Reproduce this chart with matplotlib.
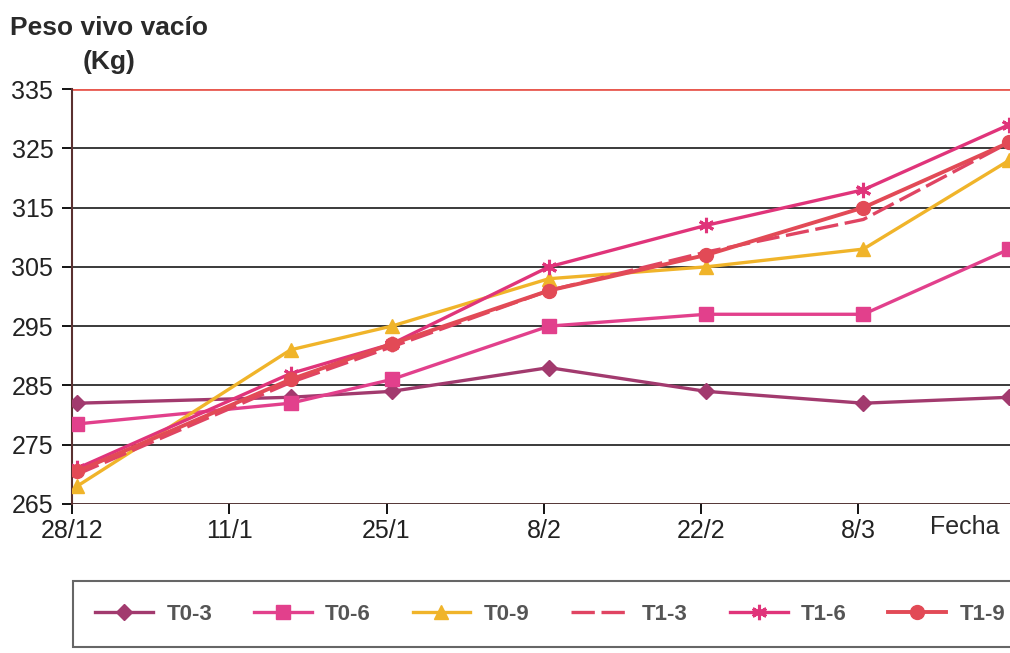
import numpy as np
import matplotlib.pyplot as plt

plt.rcParams['font.family'] = ['Liberation Sans', 'DejaVu Sans']

# days since 28/12 for each weighing
dias = [0, 19, 28, 42, 56, 70, 83]
fechas = ['28/12', '11/1', '25/1', '8/2', '22/2', '8/3']
dias_ticks = [0, 14, 28, 42, 56, 70]

t0_3 = [282, 283, 284, 288, 284, 282, 283]
t0_6 = [278.5, 282, 286, 295, 297, 297, 308]
t0_9 = [268, 291, 295, 303, 305, 308, 323]
t1_3 = [270, 285.5, 291.5, 301, 307.5, 313, 326]
t1_6 = [271, 287, 292, 305, 312, 318, 329]
t1_9 = [270.5, 286, 292, 301, 307, 315, 326]

fig = plt.figure(figsize=(10.10, 6.53), dpi=100)
ax = fig.add_axes([0.0713, 0.2282, 0.9287, 0.6355])

x = np.array(dias) + 0.45
ax.plot(x, t0_3, color='#A23A6E', lw=2.4, marker='D', ms=8, label='T0-3', zorder=3)
ax.plot(x, t0_6, color='#E2408C', lw=2.4, marker='s', ms=10, label='T0-6', zorder=3)
ax.plot(x, t0_9, color='#F0B42A', lw=2.4, marker='^', ms=10, label='T0-9', zorder=3)
ax.plot(x, t1_3, color='#E04462', lw=2.4, ls=(0, (7, 2)), label='T1-3', zorder=4)
ax.plot(x, t1_6, color='#E0347A', lw=2.4, marker=(6, 2, 0), ms=11, mew=2.2, label='T1-6', zorder=4)
ax.plot(x, t1_9, color='#E24A56', lw=2.8, marker='o', ms=10, label='T1-9', zorder=5)

ax.set_ylim(265, 335)
ax.set_xlim(0, 83.5)
ax.set_yticks(np.arange(265, 336, 10))
ax.set_xticks(dias_ticks)
ax.set_xticklabels(fechas)
ax.grid(axis='y', color='#3a3a3a', lw=1.4)
ax.axhline(335, color='#E85A50', lw=2, zorder=2)
ax.axhline(265, color='#5a3a3a', lw=2, zorder=2)

for s in ['top', 'right', 'bottom']:
    ax.spines[s].set_visible(False)
ax.spines['left'].set_color('#5a3030')
ax.spines['left'].set_linewidth(1.5)
ax.tick_params(axis='both', labelsize=18, length=7, width=1.3)
ax.tick_params(axis='x', pad=4)
ax.tick_params(axis='y', pad=6.5)
for lab in ax.get_xticklabels() + ax.get_yticklabels():
    lab.set_color('#222222')

fig.text(0.01, 0.957, 'Peso vivo vacío', fontsize=19, fontweight='bold', color='#2a2a2a', va='center')
fig.text(0.082, 0.905, '(Kg)', fontsize=19, fontweight='bold', color='#2a2a2a', va='center')
fig.text(0.955, 0.193, 'Fecha', fontsize=18, color='#2a2a2a', ha='center', va='center')

# legend box runs past the right edge of the figure
leg = fig.legend(loc='center left', bbox_to_anchor=(0.0723, 0.003, 0.945, 0.113), ncol=6,
                 mode='expand', frameon=True, fancybox=False, edgecolor='#404040',
                 handlelength=2.6, columnspacing=1.6, handletextpad=0.6,
                 borderpad=1.0, borderaxespad=0,
                 prop={'weight': 'bold', 'size': 16})
leg.get_frame().set_linewidth(1.5)
for t in leg.get_texts():
    t.set_color('#555555')

fig.savefig('out.png', dpi=100, facecolor='white')
